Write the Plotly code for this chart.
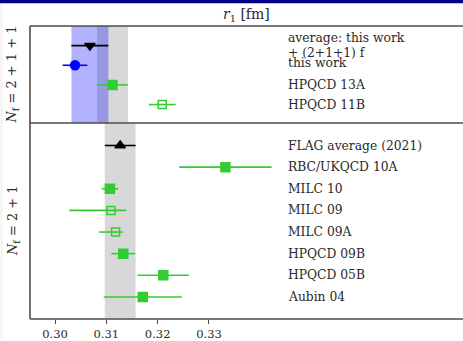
import plotly.graph_objects as go

# ---- data: r1 [fm] ----
# N_f = 2+1+1 panel (top to bottom)
top_labels = ["average: this work\n+ (2+1+1) f", "this work", "HPQCD 13A", "HPQCD 11B"]
top_values = [0.3068, 0.3039, 0.3112, 0.3209]
top_err_plus = [0.0036, 0.0024, 0.0030, 0.0026]
top_err_minus = [0.0036, 0.0024, 0.0030, 0.0026]

# N_f = 2+1 panel (top to bottom)
bot_labels = ["FLAG average (2021)", "RBC/UKQCD 10A", "MILC 10", "MILC 09",
              "MILC 09A", "HPQCD 09B", "HPQCD 05B", "Aubin 04"]
bot_values = [0.3127, 0.3332, 0.3107, 0.3109, 0.3118, 0.3133, 0.3211, 0.3171]
bot_err_plus = [0.0030, 0.0090, 0.0016, 0.0030, 0.0014, 0.0023, 0.0050, 0.0076]
bot_err_minus = [0.0030, 0.0090, 0.0016, 0.0081, 0.0032, 0.0023, 0.0050, 0.0076]

# bands: FLAG 2+1+1, our average, FLAG 2+1
flag_2111 = (0.3112, 0.0030)
avg_band = (0.3068, 0.0036)
flag_21 = (0.3127, 0.0030)

tick_vals = [0.30, 0.31, 0.32, 0.33]
tick_text = ["0.30", "0.31", "0.32", "0.33"]

GREEN = "#32cd32"
BLUE = "#0000ff"
BLACK = "#000000"
FRAME = "#4d4d4d"
TEXT = "#2a2a2a"
FONT = "DejaVu Serif"
LABEL_SIZE = 12.3

fig = go.Figure()


def point(x, y, ep, em, color, symbol, size, xa, ya):
    fig.add_trace(go.Scatter(
        x=[x], y=[y], mode="markers", xaxis=xa, yaxis=ya,
        marker=dict(symbol=symbol, size=size, color=color,
                    line=dict(color=color, width=1.5)),
        error_x=dict(type="data", symmetric=False, array=[ep], arrayminus=[em],
                     color=color, thickness=1.6, width=0),
        showlegend=False, hoverinfo="skip"))


# top panel rows (1..4)
top_style = [(BLACK, "triangle-down", 9), (BLUE, "circle", 9),
             (GREEN, "square", 9), (GREEN, "square-open", 8)]
for i, (v, ep, em, st) in enumerate(zip(top_values, top_err_plus, top_err_minus, top_style)):
    point(v, i + 1, ep, em, st[0], st[1], st[2], "x2", "y")

# bottom panel rows (1..8)
bot_style = [(BLACK, "triangle-up", 9)] + [(GREEN, "square", 9)] * 2 + \
            [(GREEN, "square-open", 8)] * 2 + [(GREEN, "square", 9)] * 3
for i, (v, ep, em, st) in enumerate(zip(bot_values, bot_err_plus, bot_err_minus, bot_style)):
    point(v, i + 1, ep, em, st[0], st[1], st[2], "x", "y2")

# ---- bands ----
shapes = []
c, e = flag_2111
shapes.append(dict(type="rect", xref="x2", yref="y domain", x0=c - e, x1=c + e, y0=0, y1=1,
                   fillcolor="#d8d8d8", line_width=0, layer="below"))
c, e = avg_band
shapes.append(dict(type="rect", xref="x2", yref="y domain", x0=c - e, x1=c + e, y0=0, y1=1,
                   fillcolor="rgba(0,0,255,0.3)", line_width=0, layer="below"))
c, e = flag_21
shapes.append(dict(type="rect", xref="x", yref="y2 domain", x0=c - e, x1=c + e, y0=0, y1=1,
                   fillcolor="#d8d8d8", line_width=0, layer="below"))

# ---- frame lines ----
split = 198 / 296
for y in (1.0, split, 0.0):
    shapes.append(dict(type="line", xref="paper", yref="paper", x0=0, x1=1.01, y0=y, y1=y,
                       line=dict(color=FRAME, width=1.6)))
shapes.append(dict(type="line", xref="paper", yref="paper", x0=0, x1=0, y0=0, y1=1,
                   line=dict(color=FRAME, width=1.6)))
# page edge decorations
shapes.append(dict(type="rect", xref="paper", yref="paper", x0=-30 / 433, x1=-27 / 433,
                   y0=-19 / 296, y1=1 + 24 / 296, fillcolor="#f6f6f6", line_width=0))
shapes.append(dict(type="rect", xref="paper", yref="paper", x0=-30 / 433, x1=1.01,
                   y0=1 + 23 / 296, y1=1 + 27 / 296, fillcolor="#000088", line_width=0))

# ---- labels ----
annotations = []
label_x = 0.3451
lab_font = dict(family=FONT, size=LABEL_SIZE, color=TEXT)
for i, lab in enumerate(top_labels):
    lines = lab.split("\n")
    if len(lines) == 2:
        for ln, shift in zip(lines, (8, -7)):
            annotations.append(dict(x=label_x, y=i + 1, xref="x2", yref="y", text=ln,
                                    xanchor="left", yanchor="middle", yshift=shift,
                                    showarrow=False, font=lab_font))
    else:
        annotations.append(dict(x=label_x, y=i + 1, xref="x2", yref="y", text=lab,
                                xanchor="left", yanchor="middle", yshift=(2 if i == 1 else 0),
                                showarrow=False, font=lab_font))
for i, lab in enumerate(bot_labels):
    annotations.append(dict(x=label_x, y=i + 1, xref="x", yref="y2", text=lab,
                            xanchor="left", yanchor="middle",
                            showarrow=False, font=lab_font))

annotations.append(dict(x=-17 / 433, y=(split + 1) / 2, xref="paper", yref="paper",
                        text="<i>N</i><sub>f</sub> = 2 + 1 + 1", textangle=-90,
                        xanchor="center", yanchor="middle", showarrow=False,
                        font=dict(family=FONT, size=13, color=TEXT)))
annotations.append(dict(x=-17 / 433, y=split / 2, xref="paper", yref="paper",
                        text="<i>N</i><sub>f</sub> = 2 + 1", textangle=-90,
                        xanchor="center", yanchor="middle", showarrow=False,
                        font=dict(family=FONT, size=13, color=TEXT)))
annotations.append(dict(x=0.5, y=1 + 11 / 296, xref="paper", yref="paper",
                        text="<i>r</i><sub>1</sub> [fm]", xanchor="center", yanchor="middle",
                        showarrow=False, font=dict(family=FONT, size=14, color=TEXT)))

xr = [0.29513, 0.37949]
fig.update_layout(
    width=463, height=341,
    margin=dict(l=30, r=0, t=26, b=19),
    paper_bgcolor="white", plot_bgcolor="white",
    xaxis=dict(domain=[0, 1], anchor="y2", range=xr, tickvals=tick_vals, ticktext=tick_text,
               ticks="outside", ticklen=4, tickwidth=1.2, tickcolor=FRAME,
               showgrid=False, zeroline=False, showline=False,
               tickfont=dict(family=FONT, size=11.5, color=TEXT)),
    xaxis2=dict(domain=[0, 1], anchor="y", range=xr, visible=False, matches="x"),
    yaxis=dict(domain=[split, 1], range=[4.94, 0.0], visible=False),
    yaxis2=dict(domain=[0, split], range=[9.02, -0.04], visible=False),
    shapes=shapes, annotations=annotations,
)

fig.write_html("out.html")
